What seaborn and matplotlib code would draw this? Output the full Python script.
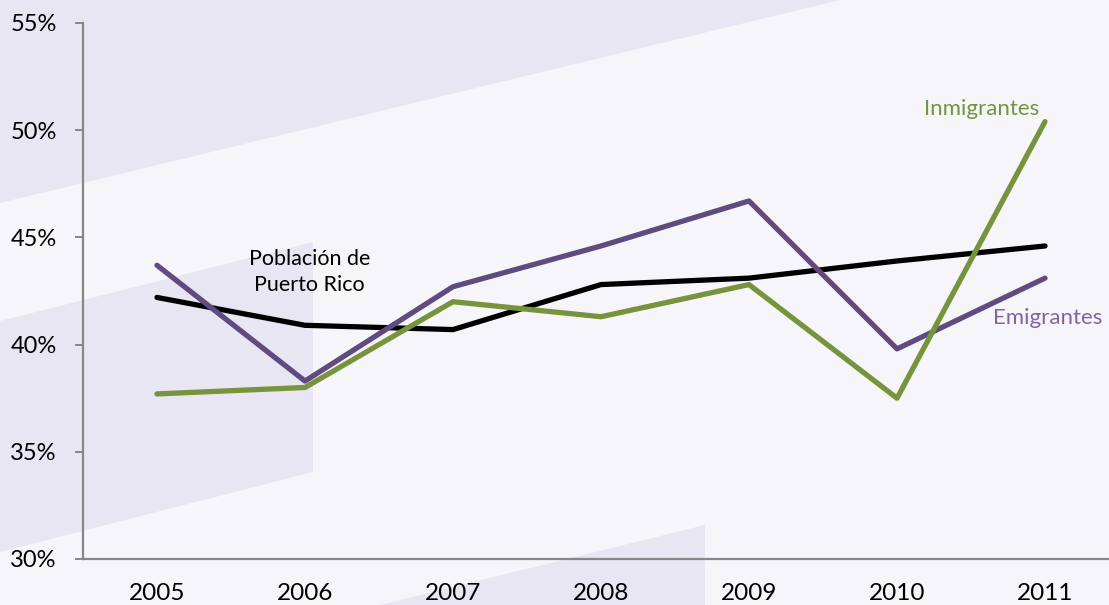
import numpy as np
import pandas as pd
import matplotlib
matplotlib.use("Agg")
import matplotlib.pyplot as plt
import seaborn as sns
from matplotlib.patches import Polygon
from matplotlib.ticker import PercentFormatter, FixedLocator

# data
years = ["2005", "2006", "2007", "2008", "2009", "2010", "2011"]
poblacion = [42.2, 40.9, 40.7, 42.8, 43.1, 43.9, 44.6]
emigrantes = [43.7, 38.3, 42.7, 44.6, 46.7, 39.8, 43.1]
inmigrantes = [37.7, 38.0, 42.0, 41.3, 42.8, 37.5, 50.4]

series_names = ["Población de Puerto Rico", "Emigrantes", "Inmigrantes"]
series_colors = ["#000000", "#5F4B80", "#77933C"]

df = pd.DataFrame({
    "pos": list(range(len(years))) * 3,
    "value": poblacion + emigrantes + inmigrantes,
    "serie": np.repeat(series_names, len(years)),
})

sns.set_theme(style="white")
plt.rcParams["font.family"] = ["Lato", "DejaVu Sans"]

W, H = 1109, 605
fig = plt.figure(figsize=(W / 100, H / 100), dpi=100)
fig.patch.set_facecolor("#F6F6FA")

# decorative background bands, drawn in pixel coords on a full-figure axes
bg = fig.add_axes([0, 0, 1, 1], zorder=0)
bg.set_xlim(0, W)
bg.set_ylim(H, 0)
bg.axis("off")
for pts in [
    [(0, 0), (840, 0), (0, 203)],
    [(0, 321), (313, 242), (313, 472), (0, 552)],
    [(380, 605), (705, 525), (705, 605)],
]:
    bg.add_patch(Polygon(pts, closed=True, facecolor="#E7E6F2", edgecolor="none"))

ax = fig.add_axes([83 / W, (H - 559) / H, (1119 - 83) / W, (559 - 23) / H], zorder=1)
ax.patch.set_visible(False)

sns.lineplot(data=df, x="pos", y="value", hue="serie", hue_order=series_names,
             palette=series_colors, linewidth=3.8, legend=False, ax=ax,
             solid_capstyle="round")

ax.set_xlim(-0.5, 6.5)
ax.set_ylim(30, 55)
ax.set_yticks(np.arange(30, 56, 5))
ax.yaxis.set_major_formatter(PercentFormatter(decimals=0))
ax.set_xticks(range(len(years)))
ax.set_xticklabels(years)
ax.xaxis.set_minor_locator(FixedLocator(np.arange(-0.5, 7, 1)))
ax.set_xlabel("")
ax.set_ylabel("")

axis_gray = "#878787"
for s in ["top", "right"]:
    ax.spines[s].set_visible(False)
for s in ["left", "bottom"]:
    ax.spines[s].set_color(axis_gray)
    ax.spines[s].set_linewidth(1.6)

ax.tick_params(axis="x", which="major", length=0, pad=17, labelsize=17.5, labelcolor="black")
ax.tick_params(axis="x", which="minor", length=6, width=1.4, color=axis_gray, direction="out")
ax.tick_params(axis="y", which="major", length=6, width=1.4, color=axis_gray, direction="out",
               pad=13, labelsize=17, labelcolor="black", left=True)

# series labels
ax.text(1.03, 43.4, "Población de\nPuerto Rico", ha="center", va="center",
        fontsize=15.5, color="black", linespacing=1.35)
ax.text(5.57, 51.0, "Inmigrantes", ha="center", va="center", fontsize=16, color="#77933C")
ax.text(6.02, 41.25, "Emigrantes", ha="center", va="center", fontsize=16, color="#8064A2")

fig.savefig("out.png", dpi=100, facecolor=fig.get_facecolor())
